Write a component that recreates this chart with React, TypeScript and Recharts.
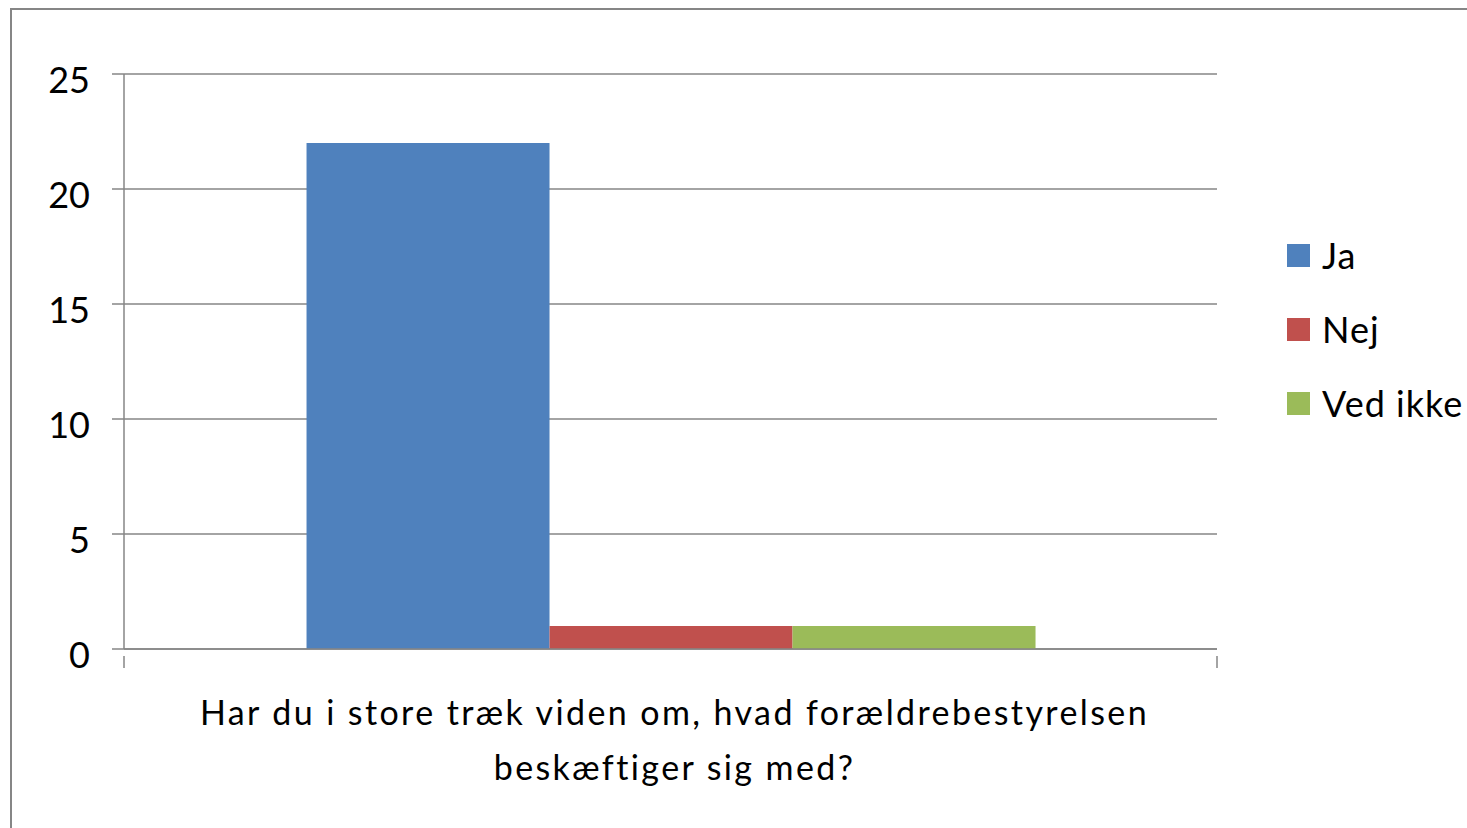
import React from "react";
import {
  BarChart,
  Bar,
  XAxis,
  YAxis,
  CartesianGrid,
} from "recharts";

const categories = ["Har du i store træk viden om, hvad forældrebestyrelsen beskæftiger sig med?"];
const categoryLines = [
  "Har du i store træk viden om, hvad forældrebestyrelsen",
  "beskæftiger sig med?",
];
const seriesNames = ["Ja", "Nej", "Ved ikke"];
const jaValues = [22];
const nejValues = [1];
const vedIkkeValues = [1];
const yTicks = [0, 5, 10, 15, 20, 25];

const COLORS = ["#4F81BD", "#C0504D", "#9BBB59"];
const AXIS = "#868686";
const FONT = "Lato, 'Open Sans', sans-serif";

const W = 1467;
const H = 828;
const PLOT_LEFT = 124;
const PLOT_RIGHT = 1217;
const PLOT_TOP = 74;
const PLOT_BOTTOM = 649;

const data = categories.map((c, i) => ({
  name: c,
  ja: jaValues[i],
  nej: nejValues[i],
  vedIkke: vedIkkeValues[i],
}));

const keys = ["ja", "nej", "vedIkke"];

function XTick(props: any) {
  const { x, y } = props;
  const half = (PLOT_RIGHT - PLOT_LEFT) / 2;
  return (
    <g>
      <line x1={x - half} y1={y - 1} x2={x - half} y2={y + 11} stroke={AXIS} strokeWidth={1.5} />
      <line x1={x + half} y1={y - 1} x2={x + half} y2={y + 11} stroke={AXIS} strokeWidth={1.5} />
      <text
        x={x + 4}
        y={y}
        textAnchor="middle"
        fontFamily={FONT}
        fontSize={34}
        letterSpacing={2.4}
        fill="#000"
      >
        {categoryLines.map((l, i) => (
          <tspan key={i} x={x + 4} dy={i === 0 ? 68 : 55}>
            {l}
          </tspan>
        ))}
      </text>
    </g>
  );
}

function LegendBox() {
  return (
    <div
      style={{
        position: "absolute",
        left: 1287,
        top: 218,
        fontFamily: FONT,
        fontSize: 36,
        letterSpacing: 1,
        color: "#000",
      }}
    >
      {seriesNames.map((n, i) => (
        <div key={n} style={{ display: "flex", alignItems: "center", height: 74 }}>
          <span
            style={{
              display: "inline-block",
              width: 23,
              height: 23,
              background: COLORS[i],
              marginRight: 12,
            }}
          />
          <span>{n}</span>
        </div>
      ))}
    </div>
  );
}

export default function App() {
  return (
    <div
      style={{
        position: "absolute",
        left: 0,
        top: 0,
        width: W,
        height: H,
        overflow: "hidden",
        background: "#fff",
      }}
    >
      <div
        style={{
          position: "absolute",
          left: 10,
          top: 8,
          width: W + 100,
          height: H + 100,
          borderLeft: `2px solid ${AXIS}`,
          borderTop: `2px solid ${AXIS}`,
        }}
      />
      <div style={{ position: "absolute", left: 0, top: 0 }}>
        <BarChart
          width={W}
          height={H}
          data={data}
          margin={{ top: PLOT_TOP, right: W - PLOT_RIGHT, left: 0, bottom: 0 }}
          barCategoryGap="16.7%"
          barGap={0}
        >
          <CartesianGrid vertical={false} stroke={AXIS} strokeWidth={1.5} />
          <XAxis
            dataKey="name"
            height={H - PLOT_BOTTOM}
            axisLine={{ stroke: AXIS, strokeWidth: 1.5 }}
            tickLine={false}
            tick={<XTick />}
            interval={0}
          />
          <YAxis
            width={PLOT_LEFT}
            domain={[0, 25]}
            ticks={yTicks}
            axisLine={{ stroke: AXIS, strokeWidth: 1.5 }}
            tickLine={{ stroke: AXIS, strokeWidth: 1.5 }}
            tickSize={12}
            tickMargin={22}
            tick={{ fontFamily: FONT, fontSize: 36, fill: "#000", dy: 6 }}
          />
          {keys.map((k, i) => (
            <Bar
              key={k}
              dataKey={k}
              name={seriesNames[i]}
              fill={COLORS[i]}
              isAnimationActive={false}
            />
          ))}
        </BarChart>
      </div>
      <LegendBox />
    </div>
  );
}
